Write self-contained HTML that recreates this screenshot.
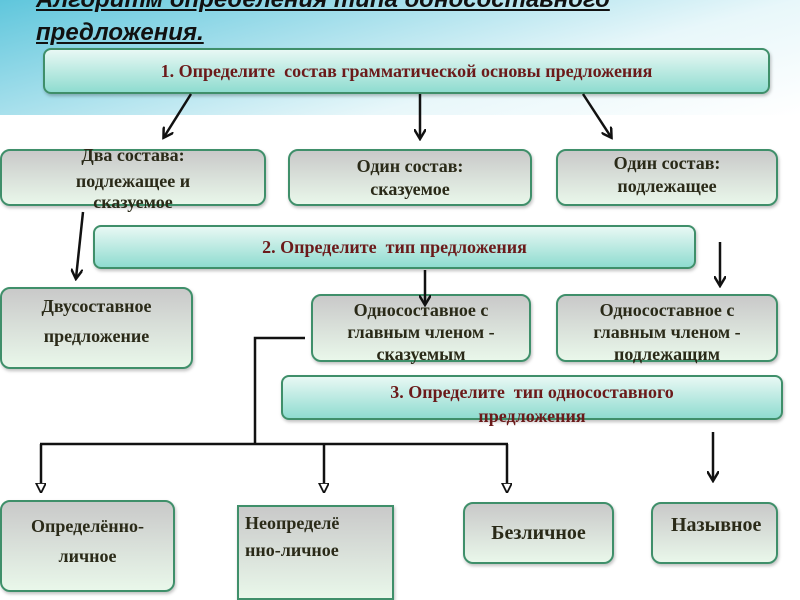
<!DOCTYPE html>
<html><head><meta charset="utf-8"><style>
body{margin:0;width:800px;height:600px;position:relative;overflow:hidden;background:#fff;font-family:"Liberation Serif","Noto Serif CJK SC",serif}
.bg{position:absolute;left:0;top:0;width:800px;height:115px;background:linear-gradient(165deg,#5fc6dc 0%,#a8e0ec 35%,#e8f7fa 65%,#fff 100%)}
.b{position:absolute;box-sizing:border-box;border:2px solid #3f8f6a;border-radius:10px;background:linear-gradient(#c9c9c9,#e9f7ea);color:#2a2a18;font-weight:bold;font-size:18px;text-align:center;line-height:23px;box-shadow:1px 2px 3px rgba(0,0,0,.25)}
.t{position:absolute;box-sizing:border-box;border:2px solid #3f8f6a;border-radius:8px;background:linear-gradient(#e8f8f4,#8fdcd0);color:#6b1a1a;font-weight:bold;font-size:18px;text-align:center;box-shadow:1px 2px 3px rgba(0,0,0,.25)}
.title{position:absolute;left:36px;font-family:"Liberation Sans",sans-serif;font-style:italic;font-weight:bold;font-size:24px;color:#111;text-decoration:underline}
svg{position:absolute;left:0;top:0}
</style></head><body>
<div class="bg"></div>
<div class="title" style="top:-14px">Алгоритм определения типа односоставного</div>
<div class="title" style="top:19px">предложения.</div>
<div class="t" style="left:43px;top:48px;width:727px;height:46px;line-height:42px">1. Определите&nbsp; состав грамматической основы предложения</div>
<div class="b" style="left:0;top:149px;width:266px;height:57px;line-height:26px"><div style="margin-top:-9px">Два состава:</div><div>подлежащее и</div><div style="margin-top:-5px">сказуемое</div></div>
<div class="b" style="left:288px;top:149px;width:244px;height:57px;padding-top:4px">Один состав:<br>сказуемое</div>
<div class="b" style="left:556px;top:149px;width:222px;height:57px;padding-top:1px">Один состав:<br>подлежащее</div>
<div class="t" style="left:93px;top:225px;width:603px;height:44px;line-height:40px">2. Определите&nbsp; тип предложения</div>
<div class="b" style="left:0;top:287px;width:193px;height:82px;padding-top:2px;line-height:30px">Двусоставное<br>предложение</div>
<div class="b" style="left:311px;top:294px;width:220px;height:68px;padding-top:3px;line-height:22px">Односоставное с<br>главным членом -<br>сказуемым</div>
<div class="b" style="left:556px;top:294px;width:222px;height:68px;padding-top:3px;line-height:22px">Односоставное с<br>главным членом -<br>подлежащим</div>
<div class="t" style="left:281px;top:375px;width:502px;height:45px;line-height:24px;padding-top:3px">3. Определите&nbsp; тип односоставного<br>предложения</div>
<div class="b" style="left:0;top:500px;width:175px;height:92px;padding-top:9px;line-height:30px">Определённо-<br>личное</div>
<div class="b" style="left:237px;top:505px;width:157px;height:95px;border-radius:0;text-align:left;padding:3px 0 0 6px;line-height:27px">Неопределё<br>нно-личное</div>
<div class="b" style="left:463px;top:502px;width:151px;height:62px;line-height:58px;font-size:20px">Безличное</div>
<div class="b" style="left:651px;top:502px;width:127px;height:62px;line-height:42px;font-size:20px;text-align:left;padding-left:18px;white-space:nowrap">Назывное</div>
<svg width="800" height="600" viewBox="0 0 800 600">
<defs><marker id="a" markerWidth="12" markerHeight="12" refX="9" refY="6" orient="auto" markerUnits="userSpaceOnUse"><path d="M0,0 L10,6 L0,12" fill="none" stroke="#111" stroke-width="2.5"/></marker>
<marker id="o" markerWidth="10" markerHeight="12" refX="9" refY="5" orient="auto" markerUnits="userSpaceOnUse"><path d="M0,0 L10,5 L0,10 Z" fill="#fff" stroke="#111" stroke-width="1.8"/></marker></defs>
<g stroke="#111" stroke-width="2.5" fill="none">
<line x1="191" y1="94" x2="164" y2="137" marker-end="url(#a)"/>
<line x1="420" y1="94" x2="420" y2="138" marker-end="url(#a)"/>
<line x1="583" y1="94" x2="611" y2="137" marker-end="url(#a)"/>
<line x1="83" y1="212" x2="76" y2="278" marker-end="url(#a)"/>
<line x1="720" y1="242" x2="720" y2="285" marker-end="url(#a)"/>
<line x1="425" y1="270" x2="425" y2="304" marker-end="url(#a)"/>
<line x1="713" y1="432" x2="713" y2="480" marker-end="url(#a)"/>
<polyline points="305,338 255,338 255,444"/>
<line x1="40" y1="444" x2="508" y2="444"/>
<line x1="41" y1="444" x2="41" y2="492" marker-end="url(#o)"/>
<line x1="324" y1="444" x2="324" y2="492" marker-end="url(#o)"/>
<line x1="507" y1="444" x2="507" y2="492" marker-end="url(#o)"/>
</g></svg>
</body></html>
